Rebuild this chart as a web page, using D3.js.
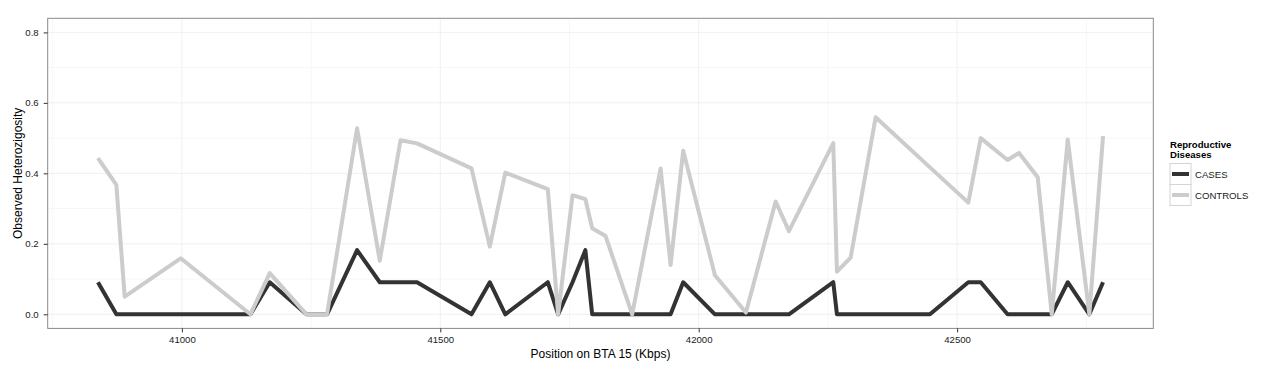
<!DOCTYPE html>
<html>
<head>
<meta charset="utf-8">
<script src="https://cdn.jsdelivr.net/npm/d3@7"></script>
<style>
  body { margin: 0; background: #fff; }
  text { font-family: "Liberation Sans", Arial, sans-serif; }
</style>
</head>
<body>
<div id="my_dataviz"></div>
<script>
// positions in Kbps (shared by both groups)
var positions = [40837.6, 40873.2, 40889.3, 40997.7, 41132.6, 41170.0, 41241.0, 41280.9, 41339.0, 41382.9,
  41423.0, 41455.0, 41560.4, 41595.8, 41625.8, 41708.0, 41728.0, 41755.9, 41780.7, 41793.9,
  41819.8, 41871.3, 41926.3, 41945.6, 41970.0, 42031.4, 42091.4, 42148.9, 42174.6, 42260.4,
  42267.5, 42294.0, 42342.4, 42447.5, 42521.7, 42545.7, 42597.6, 42619.8, 42656.0, 42683.1,
  42714.1, 42755.9, 42782.4]

var casesHo = [0.091, 0, 0, 0, 0, 0.091, 0, 0, 0.182, 0.091,
  0.091, 0.091, 0, 0.091, 0, 0.091, 0, 0.091, 0.182, 0,
  0, 0, 0, 0, 0.091, 0, 0, 0, 0, 0.091,
  0, 0, 0, 0, 0.091, 0.091, 0, 0, 0, 0,
  0.091, 0, 0.091]

var controlsHo = [0.443, 0.367, 0.050, 0.159, 0, 0.117, 0, 0, 0.528, 0.152,
  0.494, 0.485, 0.414, 0.192, 0.402, 0.355, 0, 0.338, 0.327, 0.244,
  0.222, 0, 0.414, 0.140, 0.464, 0.111, 0.005, 0.320, 0.236, 0.486,
  0.121, 0.161, 0.559, 0.417, 0.317, 0.500, 0.438, 0.458, 0.389, 0,
  0.496, 0, 0.506]

var groups = ["CASES", "CONTROLS"]
var groupColors = ["#333333", "#cccccc"]
var xTicks = [41000, 41500, 42000, 42500]
var xMinor = [40750, 41250, 41750, 42250, 42750]
var yTicks = [0, 0.2, 0.4, 0.6, 0.8]
var yMinor = [0.1, 0.3, 0.5, 0.7]

var W = 1280, H = 370
var margin = { top: 18.3, right: 126.7, bottom: 41.6, left: 47.7 }
var width = W - margin.left - margin.right
var height = H - margin.top - margin.bottom

var series = groups.map(function (g, gi) {
  var vals = gi == 0 ? casesHo : controlsHo
  return { name: g, color: groupColors[gi], values: positions.map(function (p, i) { return { x: p, y: vals[i] } }) }
})

// ggplot style 5% expansion
var xExt = d3.extent(positions)
var xPad = (xExt[1] - xExt[0]) * 0.05
var xs = d3.scaleLinear().domain([xExt[0] - xPad, xExt[1] + xPad]).range([0, width])
var ys = d3.scaleLinear().domain([-0.04, 0.84]).range([height, 0])

var svg = d3.select("#my_dataviz").append("svg").attr("width", W).attr("height", H)
var g = svg.append("g").attr("transform", "translate(" + margin.left + "," + margin.top + ")")

// grid
g.selectAll(".xminor").data(xMinor).enter().append("line")
  .attr("x1", d => xs(d)).attr("x2", d => xs(d)).attr("y1", 0).attr("y2", height)
  .attr("stroke", "#f7f7f7").attr("stroke-width", 1)
g.selectAll(".yminor").data(yMinor).enter().append("line")
  .attr("y1", d => ys(d)).attr("y2", d => ys(d)).attr("x1", 0).attr("x2", width)
  .attr("stroke", "#f7f7f7").attr("stroke-width", 1)
g.selectAll(".xmajor").data(xTicks).enter().append("line")
  .attr("x1", d => xs(d)).attr("x2", d => xs(d)).attr("y1", 0).attr("y2", height)
  .attr("stroke", "#ececec").attr("stroke-width", 0.8)
g.selectAll(".ymajor").data(yTicks).enter().append("line")
  .attr("y1", d => ys(d)).attr("y2", d => ys(d)).attr("x1", 0).attr("x2", width)
  .attr("stroke", "#ececec").attr("stroke-width", 0.8)

// lines
var line = d3.line().x(d => xs(d.x)).y(d => ys(d.y))
g.selectAll(".series").data(series).enter().append("path")
  .attr("d", d => line(d.values))
  .attr("fill", "none")
  .attr("stroke", d => d.color)
  .attr("stroke-width", 4)
  .attr("stroke-linejoin", "round")

// panel border
g.append("rect").attr("width", width).attr("height", height)
  .attr("fill", "none").attr("stroke", "#8a8a8a").attr("stroke-width", 1)

// axes
var xAxis = g.append("g").attr("transform", "translate(0," + height + ")")
  .call(d3.axisBottom(xs).tickValues(xTicks).tickSize(4).tickPadding(4).tickFormat(d3.format("d")))
xAxis.select(".domain").remove()
xAxis.selectAll("line").attr("stroke", "#333")
xAxis.selectAll("text").style("font-size", "9.6px").attr("fill", "#1a1a1a")

var yAxis = g.append("g")
  .call(d3.axisLeft(ys).tickValues(yTicks).tickSize(4).tickPadding(5).tickFormat(d3.format(".1f")))
yAxis.select(".domain").remove()
yAxis.selectAll("line").attr("stroke", "#333")
yAxis.selectAll("text").style("font-size", "9.6px").attr("fill", "#1a1a1a")

// titles
svg.append("text").attr("x", margin.left + width / 2).attr("y", 357.5)
  .attr("text-anchor", "middle").style("font-size", "12px").text("Position on BTA 15 (Kbps)")
svg.append("text").attr("transform", "translate(22," + (margin.top + height / 2) + ") rotate(-90)")
  .attr("text-anchor", "middle").style("font-size", "12px").text("Observed Heterozigosity")

// legend
var leg = svg.append("g").attr("transform", "translate(1170,0)")
leg.append("text").attr("x", 0).attr("y", 147.5).style("font-size", "9.6px").style("font-weight", "bold").text("Reproductive")
leg.append("text").attr("x", 0).attr("y", 158).style("font-size", "9.6px").style("font-weight", "bold").text("Diseases")
var keys = leg.selectAll(".key").data(series).enter().append("g")
  .attr("transform", (d, i) => "translate(0," + (163.5 + i * 21) + ")")
keys.append("rect").attr("width", 21).attr("height", 21).attr("fill", "#fff").attr("stroke", "#d4d4d4").attr("stroke-width", 1)
keys.append("line").attr("x1", 2).attr("x2", 19).attr("y1", 10.5).attr("y2", 10.5)
  .attr("stroke", d => d.color).attr("stroke-width", 4)
keys.append("text").attr("x", 25).attr("y", 14).style("font-size", "9.6px").attr("fill", "#1a1a1a").text(d => d.name)
</script>
</body>
</html>
